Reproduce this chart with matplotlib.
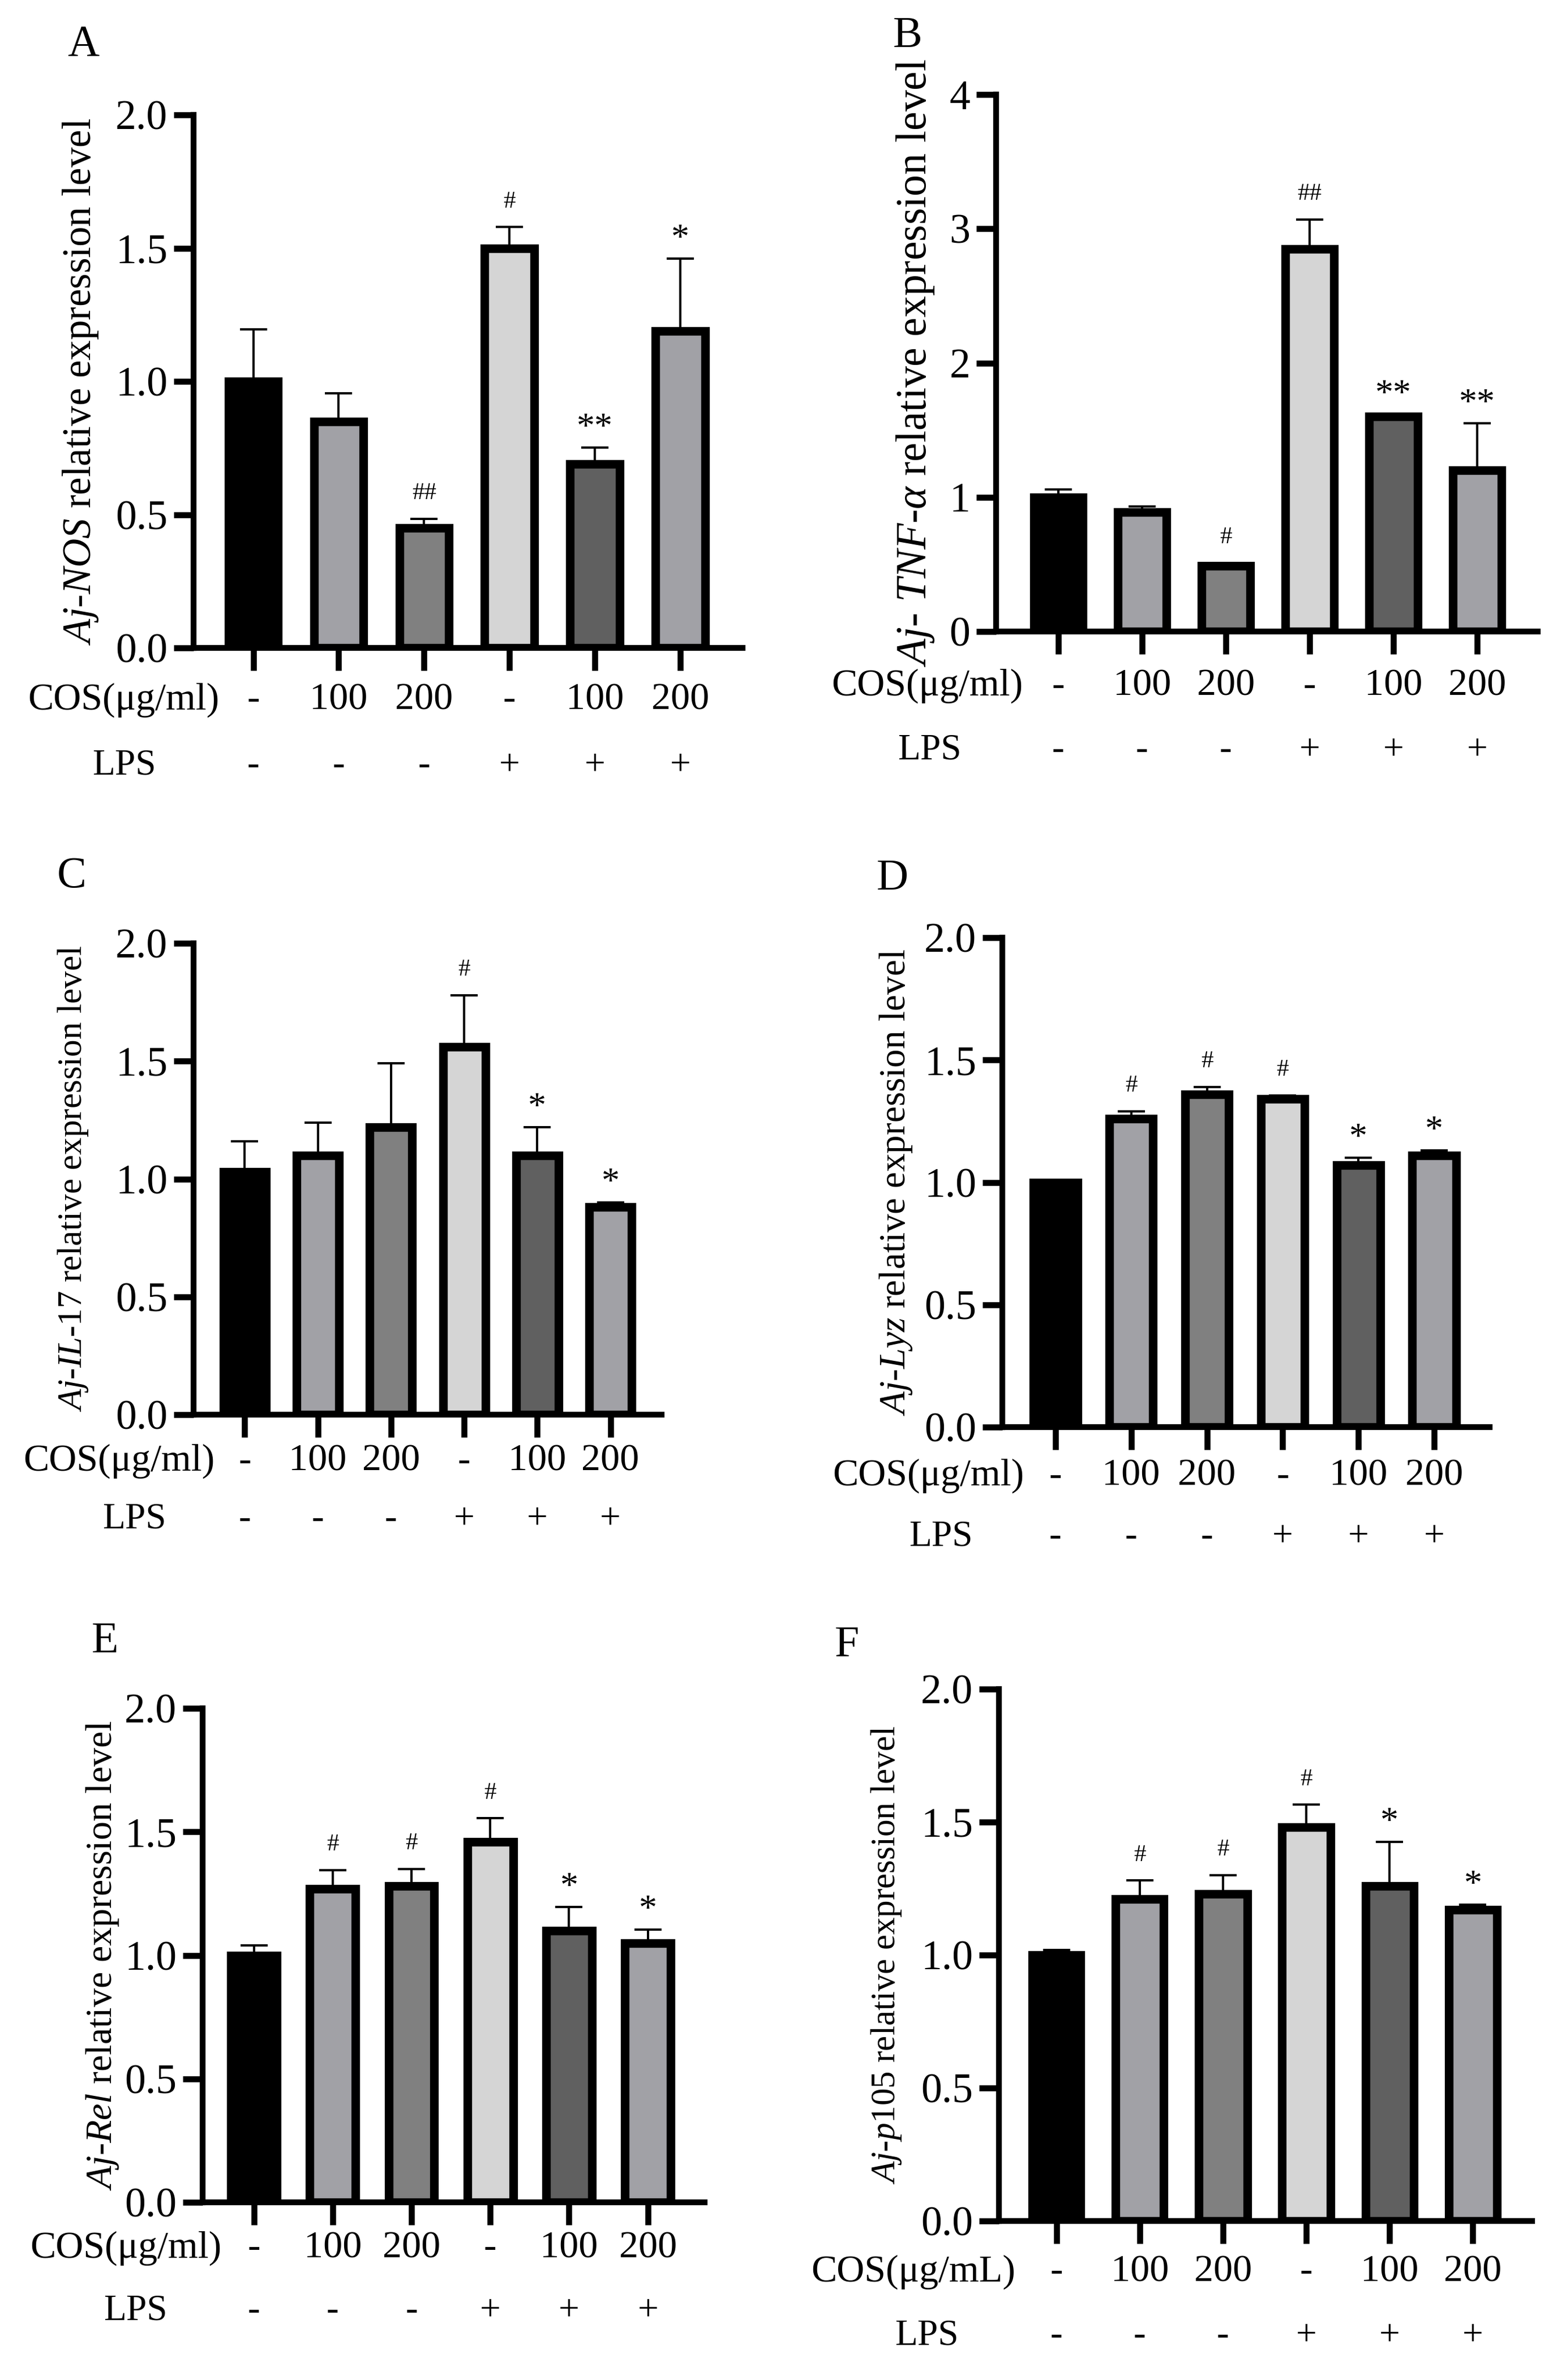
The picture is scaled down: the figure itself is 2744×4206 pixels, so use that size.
import matplotlib
matplotlib.use('Agg')
import matplotlib.pyplot as plt
import numpy as np

plt.rcParams['font.family'] = ['Liberation Serif', 'DejaVu Serif']
plt.rcParams['mathtext.fontset'] = 'custom'
plt.rcParams['mathtext.rm'] = 'Liberation Serif'
plt.rcParams['mathtext.it'] = 'Liberation Serif:italic'

W, H = 2744, 4206
PX = 0.72  # points per pixel at dpi 100

# ---- data ----
cos_labels = ['-', '100', '200', '-', '100', '200']
lps_labels = ['-', '-', '-', '+', '+', '+']
bar_colors = ['#000000', '#a1a1a6', '#808080', '#d5d5d5', '#606060', '#a1a1a6']

nos_mean = [1.00, 0.85, 0.45, 1.50, 0.69, 1.19]
nos_err = [0.195, 0.106, 0.034, 0.079, 0.061, 0.271]
nos_marks = ['', '', '##', '#', '**', '*']

tnf_mean = [1.00, 0.89, 0.49, 2.85, 1.60, 1.20]
tnf_err = [0.06, 0.04, 0.02, 0.22, 0.02, 0.35]
tnf_marks = ['', '', '#', '##', '**', '**']

il17_mean = [1.03, 1.10, 1.22, 1.56, 1.10, 0.88]
il17_err = [0.13, 0.14, 0.27, 0.22, 0.12, 0.02]
il17_marks = ['', '', '', '#', '*', '*']

lyz_mean = [1.00, 1.26, 1.36, 1.34, 1.07, 1.11]
lyz_err = [0.005, 0.03, 0.03, 0.015, 0.03, 0.02]
lyz_marks = ['', '#', '#', '#', '*', '*']

rel_mean = [1.00, 1.27, 1.28, 1.46, 1.10, 1.05]
rel_err = [0.04, 0.075, 0.07, 0.095, 0.095, 0.055]
rel_marks = ['', '#', '#', '#', '*', '*']

p105_mean = [1.00, 1.21, 1.23, 1.48, 1.26, 1.17]
p105_err = [0.02, 0.07, 0.07, 0.085, 0.165, 0.02]
p105_marks = ['', '#', '#', '#', '*', '*']

ticks_2 = [0, 0.5, 1.0, 1.5, 2.0]
ticks_4 = [0, 1, 2, 3, 4]

panels = [
    ('A', r'$\mathit{Aj}$-$\mathit{NOS}$ relative expression level', nos_mean, nos_err, nos_marks, ticks_2, 'COS(μg/ml)'),
    ('B', r'$\mathit{Aj}$- $\mathit{TNF}$-$\mathit{\alpha}$ relative expression level', tnf_mean, tnf_err, tnf_marks, ticks_4, 'COS(μg/ml)'),
    ('C', r'$\mathit{Aj}$-$\mathit{IL}$-$\mathit{17}$ relative expression level', il17_mean, il17_err, il17_marks, ticks_2, 'COS(μg/ml)'),
    ('D', r'$\mathit{Aj}$-$\mathit{Lyz}$ relative expression level', lyz_mean, lyz_err, lyz_marks, ticks_2, 'COS(μg/ml)'),
    ('E', r'$\mathit{Aj}$-$\mathit{Rel}$ relative expression level', rel_mean, rel_err, rel_marks, ticks_2, 'COS(μg/ml)'),
    ('F', r'$\mathit{Aj}$-$\mathit{p105}$ relative expression level', p105_mean, p105_err, p105_marks, ticks_2, 'COS(μg/mL)'),
]

# ---- layout (pixels) ----
# rect: left, top, right, bottom; xlim; letter pos; ylabel x and size; row offsets; row label dx
layout = [
    dict(rect=(342, 203, 1312, 1145), xlim=(-0.70, 5.73), letter=(147, 79), ylx=143, yls=51, rows=(92, 208), cdx=46, ldx=-123),
    dict(rect=(1760, 167, 2717, 1116), xlim=(-0.74, 5.72), letter=(1604, 64), ylx=1618, yls=54.5, rows=(96, 210), cdx=47, ldx=-118),
    dict(rect=(342, 1667, 1169, 2500), xlim=(-0.70, 5.70), letter=(127, 1549), ylx=129, yls=44, rows=(82, 185), cdx=37, ldx=-105),
    dict(rect=(1771, 1657, 2632, 2522), xlim=(-0.70, 5.73), letter=(1577, 1553), ylx=1583, yls=47, rows=(86, 194), cdx=39, ldx=-109),
    dict(rect=(358, 3019, 1245, 3892), xlim=(-0.65, 5.72), letter=(186, 2901), ylx=181, yls=47.5, rows=(81, 192), cdx=34, ldx=-119),
    dict(rect=(1765, 2985, 2707, 3925), xlim=(-0.69, 5.71), letter=(1496, 2908), ylx=1566, yls=44, rows=(90, 203), cdx=29, ldx=-128),
]

fig = plt.figure(figsize=(W / 100, H / 100), dpi=100)

for (letter, ylab, mean, err, marks, yt, cos_title), lo in zip(panels, layout):
    l, t, r, b = lo['rect']
    ax = fig.add_axes([l / W, 1 - b / H, (r - l) / W, (b - t) / H])
    x = np.arange(len(mean))
    ax.bar(x, mean, width=0.58, color=bar_colors, edgecolor='black', linewidth=11, zorder=2)
    ax.errorbar(x, mean, yerr=[np.zeros(len(err)), err], fmt='none', ecolor='black',
                elinewidth=2.9, capsize=17.5, capthick=2.9, zorder=3)

    ax.set_xlim(*lo['xlim'])
    ax.set_ylim(0, yt[-1])
    ax.set_yticks(yt)
    if yt[-1] == 4:
        ax.set_yticklabels([str(v) for v in yt])
    else:
        ax.set_yticklabels(['%.1f' % v for v in yt])
    ax.set_xticks(x)
    ax.set_xticklabels([])
    for s in ['top', 'right']:
        ax.spines[s].set_visible(False)
    for s in ['left', 'bottom']:
        ax.spines[s].set_linewidth(7.4)
    ax.tick_params(axis='y', length=25, width=7.6, labelsize=53, pad=8)
    ax.tick_params(axis='x', length=29, width=7.6)

    for i in range(len(mean)):
        m = marks[i]
        if m:
            if '#' in m:
                ax.annotate(m, xy=(i, mean[i] + err[i]), xytext=(0, 25), textcoords='offset points',
                            ha='center', va='baseline', fontsize=31)
            else:
                ax.annotate(m, xy=(i, mean[i] + err[i]), xytext=(0, 13), textcoords='offset points',
                            ha='center', va='baseline', fontsize=46)
        ax.annotate(cos_labels[i], xy=(i, 0), xycoords=('data', 'axes fraction'),
                    xytext=(0, -lo['rows'][0] * PX), textcoords='offset points',
                    ha='center', va='center', fontsize=49)
        ax.annotate(lps_labels[i], xy=(i, 0), xycoords=('data', 'axes fraction'),
                    xytext=(0, -lo['rows'][1] * PX), textcoords='offset points',
                    ha='center', va='center', fontsize=47)

    fig.text((l + lo['cdx']) / W, 1 - (b + lo['rows'][0]) / H, cos_title,
             ha='right', va='center', fontsize=49)
    fig.text((l + lo['ldx']) / W, 1 - (b + lo['rows'][1]) / H, 'LPS',
             ha='center', va='center', fontsize=47)
    fig.text(lo['ylx'] / W, 1 - (t + b) / 2 / H, ylab, rotation=90,
             ha='center', va='center', fontsize=lo['yls'])
    fig.text(lo['letter'][0] / W, 1 - lo['letter'][1] / H, letter,
             ha='center', va='center', fontsize=56)

fig.savefig('out.png', dpi=100, facecolor='white')
